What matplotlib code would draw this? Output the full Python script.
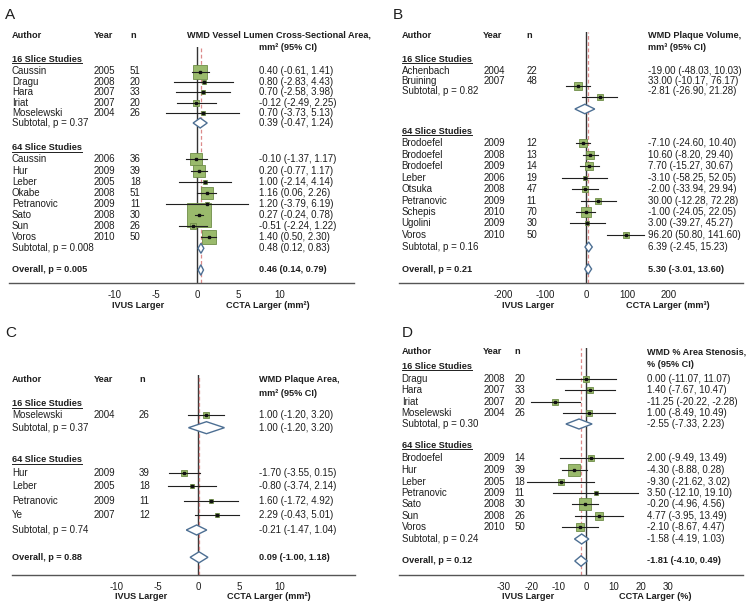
import numpy as np
import matplotlib
matplotlib.use("Agg")
import matplotlib.pyplot as plt
from matplotlib.patches import Polygon
from matplotlib.lines import Line2D
from matplotlib.transforms import blended_transform_factory

plt.rcParams['font.family'] = ['Liberation Sans', 'DejaVu Sans']
plt.rcParams['axes.unicode_minus'] = False

W, H = 750, 604
FS = 7
FS_BOLD = 6.6
TXT = '#1e1e1e'
GREEN = '#9aba6c'
GREEN_EDGE = '#6e8c48'
DIAMOND = '#4d6f93'
DASH = '#dc8a8a'

# ---- A: vessel lumen cross-sectional area
A_author = ['Caussin', 'Dragu', 'Hara', 'Iriat', 'Moselewski',
            'Caussin', 'Hur', 'Leber', 'Okabe', 'Petranovic', 'Sato', 'Sun', 'Voros']
A_group = [16] * 5 + [64] * 8
A_year = [2005, 2008, 2007, 2007, 2004, 2006, 2009, 2005, 2008, 2009, 2008, 2008, 2010]
A_n = [51, 20, 33, 20, 26, 36, 39, 18, 51, 11, 30, 26, 50]
A_wmd = [0.40, 0.80, 0.70, -0.12, 0.70, -0.10, 0.20, 1.00, 1.16, 1.20, 0.27, -0.51, 1.40]
A_lo = [-0.61, -2.83, -2.58, -2.49, -3.73, -1.37, -0.77, -2.14, 0.06, -3.79, -0.24, -2.24, 0.50]
A_hi = [1.41, 4.43, 3.98, 2.25, 5.13, 1.17, 1.17, 4.14, 2.26, 6.19, 0.78, 1.22, 2.30]
A_weight = [11.7, 1.0, 1.5, 2.2, 1.0, 7.3, 10.1, 1.0, 10.1, 1.2, 37.5, 2.9, 12.6]
A_sub_wmd = [0.39, 0.48]
A_sub_lo = [-0.47, 0.12]
A_sub_hi = [1.24, 0.83]
A_sub_p = ['0.37', '0.008']
A_overall = [0.46, 0.14, 0.79]
A_overall_p = '0.005'
A_header = ['WMD Vessel Lumen Cross-Sectional Area,', 'mm² (95% CI)']
A_ticks = [-10, -5, 0, 5, 10]
A_xlabel = 'CCTA Larger (mm²)'

# ---- B: plaque volume
B_author = ['Achenbach', 'Bruining', 'Brodoefel', 'Brodoefel', 'Brodoefel', 'Leber',
            'Otsuka', 'Petranovic', 'Schepis', 'Ugolini', 'Voros']
B_group = [16] * 2 + [64] * 9
B_year = [2004, 2007, 2009, 2008, 2009, 2006, 2008, 2009, 2010, 2009, 2010]
B_n = [22, 48, 12, 13, 14, 19, 47, 11, 70, 30, 50]
B_wmd = [-19.00, 33.00, -7.10, 10.60, 7.70, -3.10, -2.00, 30.00, -1.00, 3.00, 96.20]
B_lo = [-48.03, -10.17, -24.60, -8.20, -15.27, -58.25, -33.94, -12.28, -24.05, -39.27, 50.80]
B_hi = [10.03, 76.17, 10.40, 29.40, 30.67, 52.05, 29.94, 72.28, 22.05, 45.27, 141.60]
B_weight = [11.2, 6.0, 13.7, 11.8, 12.8, 2.4, 7.9, 6.5, 17.2, 3.2, 7.2]
B_sub_wmd = [-2.81, 6.39]
B_sub_lo = [-26.90, -2.45]
B_sub_hi = [21.28, 15.23]
B_sub_p = ['0.82', '0.16']
B_overall = [5.30, -3.01, 13.60]
B_overall_p = '0.21'
B_header = ['WMD Plaque Volume,', 'mm³ (95% CI)']
B_ticks = [-200, -100, 0, 100, 200]
B_xlabel = 'CCTA Larger (mm³)'

# ---- C: plaque area
C_author = ['Moselewski', 'Hur', 'Leber', 'Petranovic', 'Ye']
C_group = [16, 64, 64, 64, 64]
C_year = [2004, 2009, 2005, 2009, 2007]
C_n = [26, 39, 18, 11, 12]
C_wmd = [1.00, -1.70, -0.80, 1.60, 2.29]
C_lo = [-1.20, -3.55, -3.74, -1.72, -0.43]
C_hi = [3.20, 0.15, 2.14, 4.92, 5.01]
C_weight = [33.8, 33.8, 12.1, 8.2, 12.1]
C_sub_wmd = [1.00, -0.21]
C_sub_lo = [-1.20, -1.47]
C_sub_hi = [3.20, 1.04]
C_sub_p = ['0.37', '0.74']
C_overall = [0.09, -1.00, 1.18]
C_overall_p = '0.88'
C_header = ['WMD Plaque Area,', 'mm² (95% CI)']
C_ticks = [-10, -5, 0, 5, 10]
C_xlabel = 'CCTA Larger (mm²)'

# ---- D: % area stenosis
D_author = ['Dragu', 'Hara', 'Iriat', 'Moselewski', 'Brodoefel', 'Hur', 'Leber',
            'Petranovic', 'Sato', 'Sun', 'Voros']
D_group = [16] * 4 + [64] * 7
D_year = [2008, 2007, 2007, 2004, 2009, 2009, 2005, 2009, 2008, 2008, 2010]
D_n = [20, 33, 20, 26, 14, 39, 18, 11, 30, 26, 50]
D_wmd = [0.00, 1.40, -11.25, 1.00, 2.00, -4.30, -9.30, 3.50, -0.20, 4.77, -2.10]
D_lo = [-11.07, -7.67, -20.22, -8.49, -9.49, -8.88, -21.62, -12.10, -4.96, -3.95, -8.67]
D_hi = [11.07, 10.47, -2.28, 10.49, 13.49, 0.28, 3.02, 19.10, 4.56, 13.49, 4.47]
D_weight = [5.3, 5.3, 6.6, 5.3, 4.8, 22.3, 4.8, 2.7, 23.8, 7.9, 11.2]
D_sub_wmd = [-2.55, -1.58]
D_sub_lo = [-7.33, -4.19]
D_sub_hi = [2.23, 1.03]
D_sub_p = ['0.30', '0.24']
D_overall = [-1.81, -4.10, 0.49]
D_overall_p = '0.12'
D_header = ['WMD % Area Stenosis,', '% (95% CI)']
D_ticks = [-30, -20, -10, 0, 10, 20, 30]
D_xlabel = 'CCTA Larger (%)'

# pixel layout of each panel (image coordinates, y down)
LAYOUT = {
    'A': dict(label=(5, 15), axis=(9, 354, 283), zero=197, ppu=8.23, top=47,
              cols=(12, 94, 130, 259, 187), head_y=(35, 48), group_y=(59, 148),
              rows=[71.5, 82, 92.3, 102.5, 112.7, 159.3, 170.7, 182, 193, 204.3, 215.3, 226.3, 237.3],
              sub=(123, 248.3), overall=270, xlab=(305, 138, 268), box=4.08, dh=(10, 10, 10.5)),
    'B': dict(label=(393, 15), axis=(399, 743, 283), zero=586, ppu=0.412, top=32,
              cols=(401.7, 483.3, 526.7, 647.7, 647.7), head_y=(35, 48), group_y=(59, 131),
              rows=[71, 81, 143, 155, 166, 178, 189.3, 200.7, 212.3, 223.3, 235],
              frows=[86, 97.3, 143, 155, 166, 178, 189.3, 200.7, 212.3, 223.3, 235],
              sub=(91, 247), fsub=(109, 247), overall=269, xlab=(305, 528, 667.5), box=2.24,
              dh=(9.5, 10, 10.5)),
    'C': dict(label=(5, 333), axis=(12, 355, 575), zero=198.3, ppu=8.17, top=375,
              cols=(12, 94, 139, 259, 259), head_y=(380, 393.3), group_y=(404, 460),
              rows=[415, 472.7, 486, 500.7, 515],
              sub=(427.7, 530), overall=557.3, xlab=(596.7, 141, 269), box=1.15, dh=(12, 10, 11)),
    'D': dict(label=(401.7, 333), axis=(399, 743, 575), zero=586, ppu=2.74, top=347.7,
              cols=(401.7, 483.3, 514.3, 646.7, 646.7), head_y=(351.7, 364.3), group_y=(366.7, 445.7),
              rows=[379, 390.3, 401.7, 412.7, 458.3, 470, 481.7, 493.3, 504.3, 516, 526.7],
              sub=(424, 539), overall=561, xlab=(596.7, 528, 655), box=2.6, dh=(10, 10, 10.5)),
}

fig = plt.figure(figsize=(W / 100, H / 100), dpi=100)
underlined = []


def fmt(est, lo, hi):
    return f'{est:.2f} ({lo:.2f}, {hi:.2f})'


def diamond(ax, est, lo, hi, y, h):
    pts = [(lo, y), (est, y - h / 2), (hi, y), (est, y + h / 2)]
    ax.add_patch(Polygon(pts, closed=True, facecolor='white', edgecolor=DIAMOND,
                         lw=1.0, zorder=3))


def draw_panel(letter, d, lay):
    x0, x1, ay = lay['axis']
    ax = fig.add_axes([x0 / W, 1 - ay / H, (x1 - x0) / W, (ay - lay['top']) / H])
    ax.set_xlim((x0 - lay['zero']) / lay['ppu'], (x1 - lay['zero']) / lay['ppu'])
    ax.set_ylim(ay, lay['top'])
    for s in ['top', 'left', 'right']:
        ax.spines[s].set_visible(False)
    ax.spines['bottom'].set_color('#555555')
    ax.spines['bottom'].set_linewidth(1.0)
    ax.set_yticks([])
    ax.set_xticks(d['ticks'])
    ax.tick_params(axis='x', length=0, pad=5, labelsize=FS, colors=TXT)
    ax.patch.set_alpha(0)

    tr = blended_transform_factory(fig.transFigure, ax.transData)

    def put(x, y, s, bold=False, ha='left'):
        return ax.text(x / W, y, s, transform=tr, fontsize=FS_BOLD if bold else FS,
                       color=TXT, va='center', ha=ha,
                       fontweight='bold' if bold else 'normal', clip_on=False)

    fig.text(lay['label'][0] / W, 1 - lay['label'][1] / H, letter, fontsize=11,
             va='center', ha='left', color=TXT)

    ca, cy, cn, cv, ch = lay['cols']
    h1, h2 = lay['head_y']
    put(ca, h1, 'Author', True)
    put(cy, h1, 'Year', True)
    put(cn, h1, 'n', True)
    put(ch, h1, d['header'][0], True)
    put(cv, h2, d['header'][1], True)

    ax.axvline(0, color='#333333', lw=1.0, zorder=1)
    ax.axvline(d['overall'][0], color=DASH, lw=0.9, ls=(0, (3, 2)), zorder=1.5)

    rows = lay['rows']
    frows = lay.get('frows', rows)
    for gi, g in enumerate([16, 64]):
        underlined.append(put(ca, lay['group_y'][gi], f'{g} Slice Studies', True))
    for i in range(len(d['author'])):
        y, fy = rows[i], frows[i]
        put(ca, y, d['author'][i])
        put(cy, y, str(d['year'][i]))
        put(cn, y, str(d['n'][i]))
        put(cv, y, fmt(d['wmd'][i], d['lo'][i], d['hi'][i]))
        side = lay['box'] * np.sqrt(d['weight'][i])
        ax.plot([d['wmd'][i]], [fy], marker='s', ms=side * 0.72, mfc=GREEN, mec=GREEN_EDGE,
                mew=0.6, ls='none', zorder=2)
        ax.plot([d['lo'][i], d['hi'][i]], [fy, fy], color='#202020', lw=0.8, zorder=3,
                clip_on=False)
        ax.plot([d['wmd'][i]], [fy], marker='s', ms=1.6, color='#111111', ls='none', zorder=4)

    fsub = lay.get('fsub', lay['sub'])
    for k in range(2):
        put(ca, lay['sub'][k], f'Subtotal, p = {d["sub_p"][k]}')
        put(cv, lay['sub'][k], fmt(d['sub_wmd'][k], d['sub_lo'][k], d['sub_hi'][k]))
        diamond(ax, d['sub_wmd'][k], d['sub_lo'][k], d['sub_hi'][k], fsub[k], lay['dh'][k])

    oy = lay['overall']
    put(ca, oy, f'Overall, p = {d["overall_p"]}', True)
    put(cv, oy, fmt(*d['overall']), True)
    diamond(ax, *d['overall'], oy, lay['dh'][2])

    ly, ix, cx = lay['xlab']
    put(ix, ly, 'IVUS Larger', True, ha='center')
    put(cx, ly, d['xlabel'], True, ha='center')


panels = {
    'A': dict(author=A_author, year=A_year, n=A_n, wmd=A_wmd, lo=A_lo, hi=A_hi, weight=A_weight,
              sub_wmd=A_sub_wmd, sub_lo=A_sub_lo, sub_hi=A_sub_hi, sub_p=A_sub_p,
              overall=A_overall, overall_p=A_overall_p, header=A_header, ticks=A_ticks,
              xlabel=A_xlabel),
    'B': dict(author=B_author, year=B_year, n=B_n, wmd=B_wmd, lo=B_lo, hi=B_hi, weight=B_weight,
              sub_wmd=B_sub_wmd, sub_lo=B_sub_lo, sub_hi=B_sub_hi, sub_p=B_sub_p,
              overall=B_overall, overall_p=B_overall_p, header=B_header, ticks=B_ticks,
              xlabel=B_xlabel),
    'C': dict(author=C_author, year=C_year, n=C_n, wmd=C_wmd, lo=C_lo, hi=C_hi, weight=C_weight,
              sub_wmd=C_sub_wmd, sub_lo=C_sub_lo, sub_hi=C_sub_hi, sub_p=C_sub_p,
              overall=C_overall, overall_p=C_overall_p, header=C_header, ticks=C_ticks,
              xlabel=C_xlabel),
    'D': dict(author=D_author, year=D_year, n=D_n, wmd=D_wmd, lo=D_lo, hi=D_hi, weight=D_weight,
              sub_wmd=D_sub_wmd, sub_lo=D_sub_lo, sub_hi=D_sub_hi, sub_p=D_sub_p,
              overall=D_overall, overall_p=D_overall_p, header=D_header, ticks=D_ticks,
              xlabel=D_xlabel),
}

for key in ['A', 'B', 'C', 'D']:
    draw_panel(key, panels[key], LAYOUT[key])

# underline the group headings
fig.canvas.draw()
for t in underlined:
    bb = t.get_window_extent()
    fig.add_artist(Line2D([bb.x0 / W, bb.x1 / W], [(bb.y0 + 1) / H] * 2,
                          transform=fig.transFigure, color=TXT, lw=0.7))

fig.savefig('out.png', dpi=100, facecolor='white')
